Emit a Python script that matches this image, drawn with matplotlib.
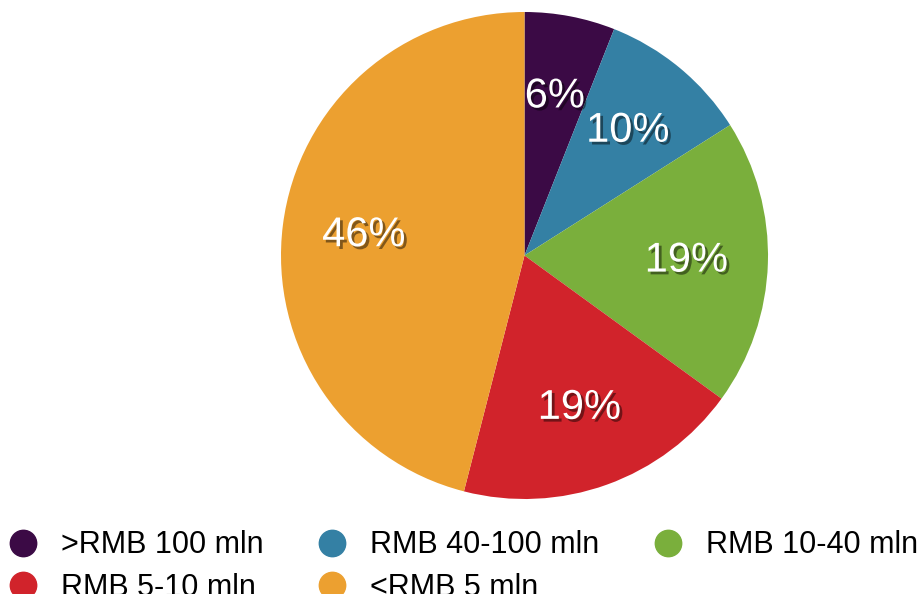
import matplotlib
matplotlib.use("Agg")
import matplotlib.pyplot as plt
import matplotlib.patheffects as pe
from matplotlib.lines import Line2D

plt.rcParams['font.family'] = ['Liberation Sans', 'DejaVu Sans']

# Data
categories = [">RMB 100 mln", "RMB 40-100 mln", "RMB 10-40 mln", "RMB 5-10 mln", "<RMB 5 mln"]
shares = [6, 10, 19, 19, 46]
colors = ["#3b0a45", "#3480a4", "#7aaf3c", "#d1232b", "#eca030"]

fig = plt.figure(figsize=(9.24, 5.94), dpi=100)

# pie axes: centre ~ (524, 256) px, radius ~244 px
W, H = 924, 594
cx, cy, r = 524.5, 255.5, 243.5
ax = fig.add_axes([(cx - r) / W, (H - cy - r) / H, 2 * r / W, 2 * r / H])

wedges, texts, autotexts = ax.pie(
    shares, colors=colors, startangle=90, counterclock=False,
    autopct=lambda p: f"{p:.0f}%", pctdistance=0.665, radius=1.0,
    wedgeprops=dict(linewidth=0))
ax.set_xlim(-1, 1)
ax.set_ylim(-1, 1)
ax.set_aspect('equal')
ax.axis('off')

shadow = [pe.SimplePatchShadow(offset=(2, -2), shadow_rgbFace='black', alpha=0.45), pe.Normal()]
for t in autotexts:
    t.set_color('white')
    t.set_fontsize(30)
    t.set_path_effects(shadow)

# legend laid out row by row (3 per row)
handles = [Line2D([], [], marker='o', linestyle='none', markersize=19,
                  markerfacecolor=c, markeredgecolor=c) for c in colors]
order = [0, 3, 1, 4, 2]
leg = fig.legend([handles[i] for i in order], [categories[i] for i in order],
                 ncol=3, loc='lower left', bbox_to_anchor=(-0.005, -0.035),
                 frameon=False, fontsize=22, handlelength=1.0, handletextpad=0.74,
                 columnspacing=1.75, labelspacing=0.4, borderaxespad=0)

fig.savefig("out.png", dpi=100)
